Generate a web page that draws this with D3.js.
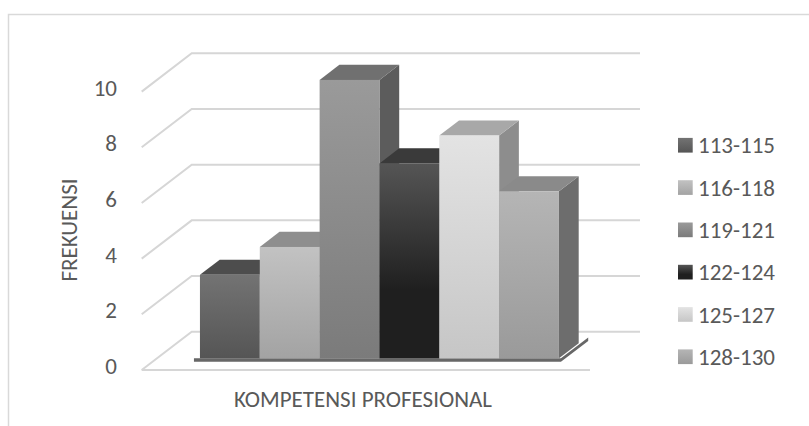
<!DOCTYPE html>
<html>
<head>
<meta charset="utf-8">
<script src="https://cdnjs.cloudflare.com/ajax/libs/d3/7.8.5/d3.min.js"></script>
<style>
  body { margin: 0; background: #fff; }
  text { font-family: Carlito, Calibri, 'Liberation Sans', sans-serif; fill: #595959; }
</style>
</head>
<body>
<div id="chart"></div>
<script>
// Data
var categories = ['113-115', '116-118', '119-121', '122-124', '125-127', '128-130'];
var frekuensi = [3, 4, 10, 7, 8, 6];
var yTicks = [0, 2, 4, 6, 8, 10];
var xTitle = 'KOMPETENSI PROFESIONAL';
var yTitle = 'FREKUENSI';

// shading of each series: front top, front bottom, top face, side face
var frontTop = ['#737373', '#c2c2c2', '#9a9a9a', '#555555', '#e3e3e3', '#b5b5b5'];
var frontBottom = ['#555555', '#a3a3a3', '#7b7b7b', '#1f1f1f', '#c6c6c6', '#9a9a9a'];
var topFace = ['#4d4d4d', '#8e8e8e', '#707070', '#3a3a3a', '#a8a8a8', '#8a8a8a'];
var sideFace = ['#444444', '#7a7a7a', '#5c5c5c', '#2a2a2a', '#8d8d8d', '#6d6d6d'];

var width = 809, height = 426;

var svg = d3.select('#chart').append('svg')
  .attr('width', width)
  .attr('height', height);

// chart border
svg.append('rect')
  .attr('x', 8.5).attr('y', 14.5)
  .attr('width', 840).attr('height', 440)
  .style('fill', 'none')
  .style('stroke', '#d9d9d9')
  .style('stroke-width', 1.5);

// 3D projection: front plane x/y plus depth z (0 = front, 1 = back wall)
var floorLeft = 141.7, floorRight = 590;
var depthX = 50, depthY = 38.3;
var y = d3.scaleLinear().domain([0, 10]).range([370, 91.6]);

function project(xf, v, z) {
  return [xf + z * depthX, y(v) - z * depthY];
}

var defs = svg.append('defs');

// Gridlines (side wall diagonal + back wall)
var grid = svg.append('g');
yTicks.forEach(function(t) {
  var a = project(floorLeft, t, 0),
      b = project(floorLeft, t, 1),
      c = project(floorRight, t, 1);
  grid.append('polyline')
    .attr('points', [a, b, c].map(function(p) { return p.join(','); }).join(' '))
    .style('fill', 'none')
    .style('stroke', '#d6d6d6')
    .style('stroke-width', 2);
});
// floor front edge
grid.append('line')
  .attr('x1', project(floorLeft, 0, 0)[0]).attr('y1', project(floorLeft, 0, 0)[1])
  .attr('x2', project(floorRight, 0, 0)[0]).attr('y2', project(floorRight, 0, 0)[1])
  .style('stroke', '#d6d6d6')
  .style('stroke-width', 2);

// Y tick labels
svg.selectAll('.tickLabel')
  .data(yTicks)
  .enter().append('text')
  .attr('class', 'tickLabel')
  .attr('x', 117)
  .attr('y', function(d) { return y(d) - 4; })
  .attr('dy', '.35em')
  .style('text-anchor', 'end')
  .style('font-size', '23px')
  .text(function(d) { return d; });

// Bars
var zFront = 0.305, zBack = 0.7;
var x = d3.scaleBand()
  .domain(categories)
  .range([184.7, 543.7])
  .padding(0);

function pts(arr) { return arr.map(function(p) { return p.join(','); }).join(' '); }

// base slab under the bars
var s0 = x(categories[0]) - 6, s1 = x(categories[categories.length - 1]) + x.bandwidth() + 2;
var slabDrop = 3.5;
function drop(p) { return [p[0], p[1] + slabDrop]; }
svg.append('polygon')
  .attr('points', pts([
    project(s0, 0, zFront), project(s1, 0, zFront), project(s1, 0, 0.85),
    drop(project(s1, 0, 0.85)), drop(project(s1, 0, zFront)), drop(project(s0, 0, zFront))
  ]))
  .style('fill', '#676767');

var data = categories.map(function(c, i) { return { cat: c, value: frekuensi[i], i: i }; });

data.forEach(function(d) {
  var grad = defs.append('linearGradient')
    .attr('id', 'grad' + d.i)
    .attr('x1', 0).attr('y1', 0).attr('x2', 0).attr('y2', 1);
  grad.append('stop').attr('offset', '0%').attr('stop-color', frontTop[d.i]);
  grad.append('stop').attr('offset', d.i === 3 ? '65%' : '100%').attr('stop-color', frontBottom[d.i]);
  grad.append('stop').attr('offset', '100%').attr('stop-color', frontBottom[d.i]);
});

var bars = svg.selectAll('.bar')
  .data(data)
  .enter().append('g')
  .attr('class', 'bar');

// side face
bars.append('polygon')
  .attr('points', function(d) {
    var xr = x(d.cat) + x.bandwidth();
    return pts([project(xr, 0, zFront), project(xr, d.value, zFront),
                project(xr, d.value, zBack), project(xr, 0, zBack)]);
  })
  .style('fill', function(d) { return sideFace[d.i]; });

// top face
bars.append('polygon')
  .attr('points', function(d) {
    var xl = x(d.cat), xr = xl + x.bandwidth();
    return pts([project(xl, d.value, zFront), project(xr, d.value, zFront),
                project(xr, d.value, zBack), project(xl, d.value, zBack)]);
  })
  .style('fill', function(d) { return topFace[d.i]; });

// front face
bars.append('rect')
  .attr('x', function(d) { return project(x(d.cat), 0, zFront)[0]; })
  .attr('y', function(d) { return project(0, d.value, zFront)[1]; })
  .attr('width', x.bandwidth())
  .attr('height', function(d) { return project(0, 0, zFront)[1] - project(0, d.value, zFront)[1]; })
  .style('fill', function(d) { return 'url(#grad' + d.i + ')'; });

// Axis titles
svg.append('text')
  .attr('x', 363)
  .attr('y', 399)
  .attr('dy', '.35em')
  .style('text-anchor', 'middle')
  .style('font-size', '23px')
  .text(xTitle);

svg.append('text')
  .attr('transform', 'translate(69,230) rotate(-90)')
  .attr('dy', '.35em')
  .style('text-anchor', 'middle')
  .style('font-size', '23px')
  .text(yTitle);

// Legend
var legend = svg.selectAll('.legend')
  .data(data)
  .enter().append('g')
  .attr('class', 'legend')
  .attr('transform', function(d, i) { return 'translate(678,' + (145.3 + i * 42.3) + ')'; });

legend.append('rect')
  .attr('y', -7.4)
  .attr('width', 14.7)
  .attr('height', 14.7)
  .style('fill', function(d) { return 'url(#grad' + d.i + ')'; });

legend.append('text')
  .attr('x', 20)
  .attr('dy', '.35em')
  .style('font-size', '23px')
  .text(function(d) { return d.cat; });
</script>
</body>
</html>
